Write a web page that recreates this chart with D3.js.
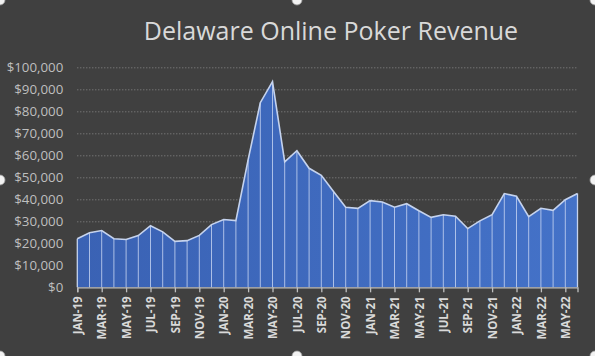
<!DOCTYPE html>
<html><head><meta charset="utf-8">
<script src="https://cdn.jsdelivr.net/npm/d3@7"></script>
<style>
html,body{margin:0;padding:0;background:#404040;}
svg{display:block;}
</style></head>
<body>
<svg id="c" width="595" height="356"></svg>
<script>
const title = "Delaware Online Poker Revenue";
const months = ["JAN-19","FEB-19","MAR-19","APR-19","MAY-19","JUN-19","JUL-19","AUG-19","SEP-19","OCT-19","NOV-19","DEC-19",
"JAN-20","FEB-20","MAR-20","APR-20","MAY-20","JUN-20","JUL-20","AUG-20","SEP-20","OCT-20","NOV-20","DEC-20",
"JAN-21","FEB-21","MAR-21","APR-21","MAY-21","JUN-21","JUL-21","AUG-21","SEP-21","OCT-21","NOV-21","DEC-21",
"JAN-22","FEB-22","MAR-22","APR-22","MAY-22","JUN-22"];
const revenue = [22100,24800,25800,22100,21700,23500,28000,25200,20900,21200,23600,28500,
30800,30300,57900,83900,93500,57000,62100,54100,50900,43500,36400,35900,
39400,38800,36400,38000,34800,31800,33000,32300,26700,30200,33000,42600,
41400,32100,35900,35000,39800,42600];
const yTicks = [0,10000,20000,30000,40000,50000,60000,70000,80000,90000,100000];

const svg = d3.select("#c");
const W = 595, H = 356;
const m = {left:77.3, right:W-577.5, top:67.3, bottom:H-287.3};
const x = d3.scalePoint().domain(months).range([m.left, W-m.right]);
const y = d3.scaleLinear().domain([0,100000]).range([H-m.bottom, m.top]);

svg.append("rect").attr("width",W).attr("height",H).attr("fill","#404040");

// title
svg.append("text").attr("x",331).attr("y",40).attr("text-anchor","middle")
  .attr("font-family","'Open Sans', sans-serif").attr("font-size",25)
  .attr("fill","#d9d9d9").text(title);

// gridlines
svg.append("g").selectAll("line").data(yTicks.slice(1)).join("line")
  .attr("x1",m.left).attr("x2",W-m.right)
  .attr("y1",d=>y(d)+0.5).attr("y2",d=>y(d)+0.5)
  .attr("stroke","#8a8a8a").attr("stroke-width",1).attr("stroke-dasharray","1,2");

// y labels
const yAxis = d3.axisLeft(y).tickValues(yTicks).tickSize(0).tickPadding(0)
  .tickFormat(d=>"$"+d3.format(",")(d));
const gy = svg.append("g").attr("transform",`translate(${m.left-14},0)`).call(yAxis);
gy.select(".domain").remove();
gy.selectAll("text").attr("fill","#bfbfbf").attr("font-size",13.3)
  .attr("font-family","'Open Sans', sans-serif");

// gradient fill
const defs = svg.append("defs");
const gr = defs.append("linearGradient").attr("id","gf").attr("x1",0).attr("x2",1).attr("y1",0).attr("y2",0);
gr.append("stop").attr("offset","0%").attr("stop-color","#3a62b4");
gr.append("stop").attr("offset","100%").attr("stop-color","#4472c8");

const data = months.map((mo,i)=>({m:mo,v:revenue[i]}));
svg.append("path").datum(data)
  .attr("d", d3.area().x(d=>x(d.m)).y0(y(0)).y1(d=>y(d.v)))
  .attr("fill","url(#gf)");

// drop lines
svg.append("g").selectAll("line").data(data.slice(1,-1)).join("line")
  .attr("x1",d=>x(d.m)).attr("x2",d=>x(d.m))
  .attr("y1",d=>y(d.v)).attr("y2",y(0))
  .attr("stroke","#c8d6f2").attr("stroke-opacity",0.8).attr("stroke-width",1);

// outline
svg.append("path").datum(data)
  .attr("d", d3.line().x(d=>x(d.m)).y(d=>y(d.v)))
  .attr("fill","none").attr("stroke","#c5d3ee").attr("stroke-width",1.6);
svg.append("line").attr("x1",x(months[0])).attr("x2",x(months[0]))
  .attr("y1",y(revenue[0])).attr("y2",y(0)).attr("stroke","#c5d3ee").attr("stroke-width",1.3);
svg.append("line").attr("x1",x(months[months.length-1])).attr("x2",x(months[months.length-1]))
  .attr("y1",y(revenue[revenue.length-1])).attr("y2",y(0)).attr("stroke","#c5d3ee").attr("stroke-width",1.3);

// x axis
const labeled = months.filter((d,i)=>i%2===0);
const xAxis = d3.axisBottom(x).tickValues(labeled).tickSize(5).tickPadding(4);
const gx = svg.append("g").attr("transform",`translate(0,${y(0)})`).call(xAxis);
gx.select(".domain").attr("stroke","#bfbfbf").attr("stroke-width",1.3);
gx.selectAll(".tick line").attr("stroke","#bfbfbf").attr("stroke-width",1.3);
gx.selectAll("text")
  .attr("font-family","'Open Sans', sans-serif").attr("font-weight","bold")
  .attr("font-size",11.5).attr("fill","#d9d9d9")
  .attr("text-anchor","end").attr("transform","rotate(-90)")
  .attr("x",-9).attr("y",0).attr("dy","0.36em");

// selection handles
const handles = [[0,180],[297,0],[595,180],[297,356],[0,0],[595,0],[0,356],[595,356]];
svg.append("g").selectAll("circle").data(handles).join("circle")
  .attr("cx",d=>d[0]).attr("cy",d=>d[1]).attr("r",5)
  .attr("fill","#f2f2f2").attr("stroke","#9a9a9a").attr("stroke-width",0.8);
</script>
</body></html>
